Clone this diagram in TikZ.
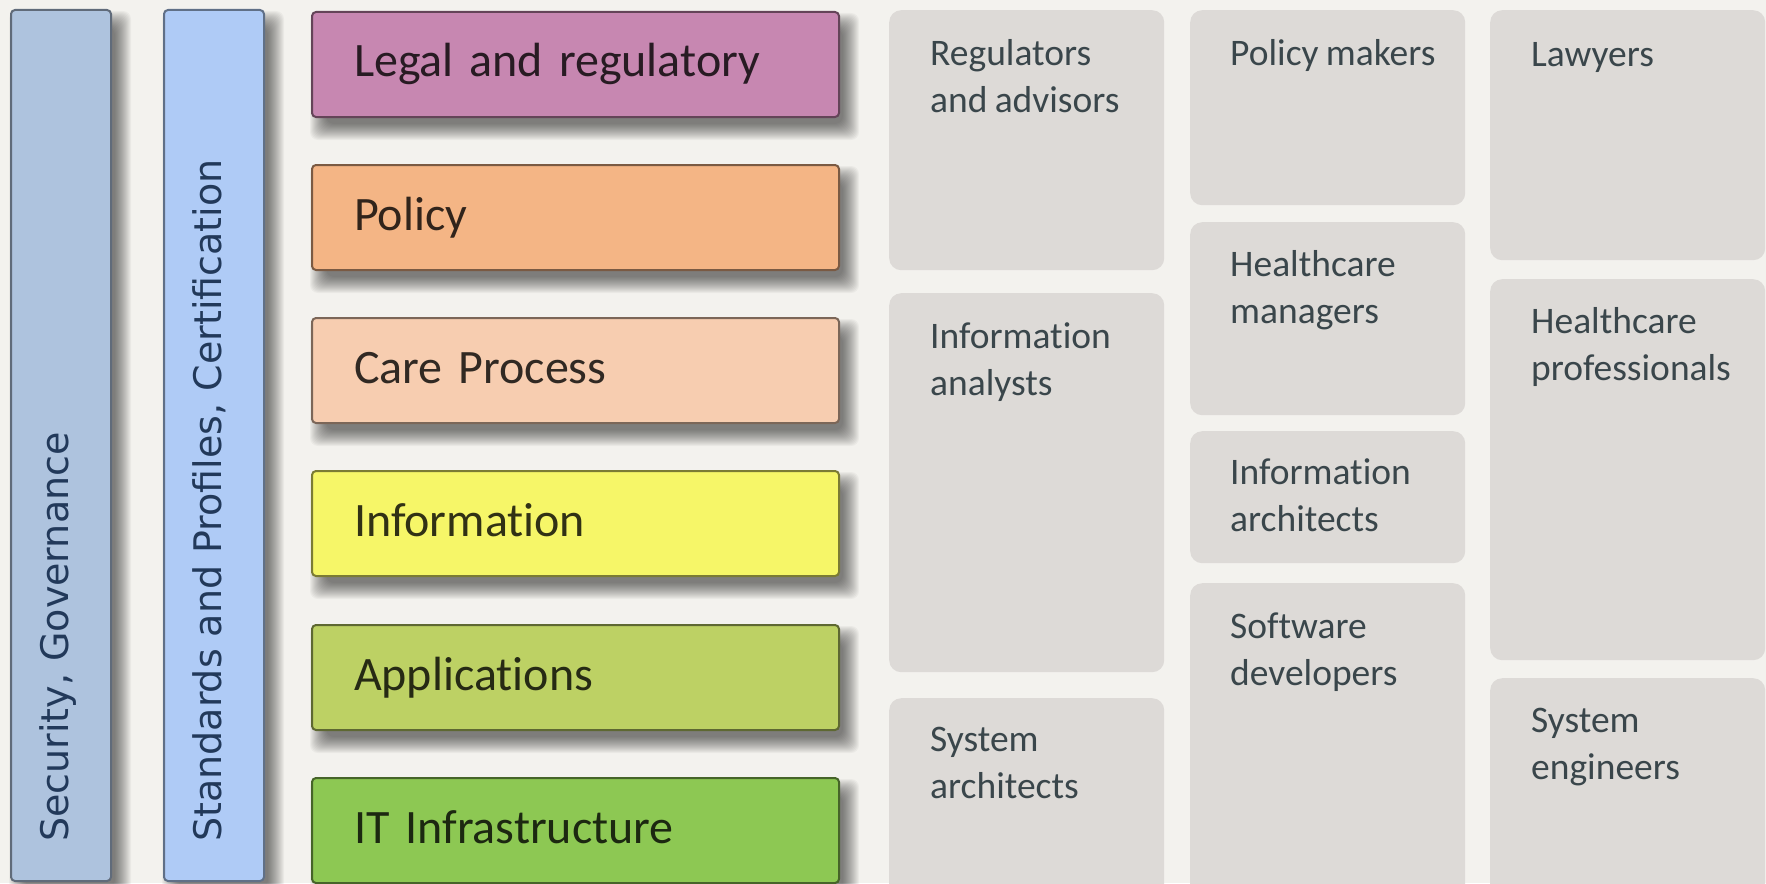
\documentclass[tikz,border=0pt]{standalone}
\usepackage{fontspec}
\setmainfont{Carlito}[Ligatures=NoCommon,Contextuals=NoAlternate,WordSpace=0.85]
\newfontfamily\barfont{DejaVu Sans}
\usetikzlibrary{calc}
\definecolor{bgc}{HTML}{F3F2EE}
\definecolor{legalc}{HTML}{C787B1}
\definecolor{policyc}{HTML}{F4B585}
\definecolor{carec}{HTML}{F7CDB0}
\definecolor{infoc}{HTML}{F6F668}
\definecolor{appc}{HTML}{BDD164}
\definecolor{itc}{HTML}{8DC853}
\definecolor{secc}{HTML}{AEC3DE}
\definecolor{stdc}{HTML}{AFCBF6}
\definecolor{rolec}{HTML}{DDDAD7}
\definecolor{roletextc}{HTML}{3A464B}
\definecolor{bartextc}{HTML}{22395A}
\pgfdeclarelayer{bgzero}
\pgfdeclarelayer{shadowlayer}
\pgfsetlayers{bgzero,shadowlayer,main}
\newcommand\rs{\rule{0pt}{28pt}}
\newcommand\softshadow[1]{%
  \foreach \i in {-6,...,10}{%
    \fill[black,fill opacity=0.035,rounded corners=8pt]
      ($(#1.north west)+(9-\i,12-\i)$) rectangle ($(#1.south east)+(9+\i,12+\i)$);}}
\begin{document}
\begin{tikzpicture}[x=1pt,y=-1pt,
  layer/.style={draw=black!50!#1, fill=#1, line width=2pt, rounded corners=4pt,
    anchor=north west, minimum width=527pt, minimum height=105pt,
    text width=443pt, inner xsep=42pt, inner ysep=0pt, align=left,
    font=\fontsize{48}{58}\selectfont, text=black!80!#1,
    text height=25pt, text depth=0pt},
  bar/.style={draw=black!45!#1, fill=#1, line width=2pt, rounded corners=4pt,
    anchor=north west, minimum width=100pt, minimum height=871pt, inner sep=0pt},
  bartext/.style={rotate=90, anchor=base west, inner sep=0pt,
    font=\barfont\fontsize{38}{46}\selectfont, text=bartextc},
  role/.style={fill=rolec, rounded corners=12pt, anchor=north west,
    minimum width=275pt, inner sep=0pt},
  roletext/.style={anchor=north west, inner sep=0pt, align=left,
    font=\fontsize{37.5}{47}\selectfont, text=roletextc}
]
\useasboundingbox (0,0) rectangle (1766,883);
\begin{pgfonlayer}{bgzero}
  \fill[bgc] (0,0) rectangle (1766,883);
\end{pgfonlayer}

\begin{scope}
\clip (0,0) rectangle (1766,883);
% vertical bars
\node[bar=secc] (sec) at (10,9) {};
\node[bar=stdc] (std) at (163,9) {};
\node[bartext] (sectext) at ($(sec.south)+(7,-40)$) {Security, Governance};
\node[bartext] (stdtext) at ($(std.south)+(7,-40)$) {Standards and Profiles, Certification};

% layers
\node[layer=legalc] (legal) at (311,11) {Legal and regulatory};
\node[layer=policyc] (policy) at (311,164) {Policy};
\node[layer=carec] (care) at (311,317) {Care Process};
\node[layer=infoc] (info) at (311,470) {Information};
\node[layer=appc] (apps) at (311,624) {Applications};
\node[layer=itc] (it) at (311,777) {IT Infrastructure};

% roles column 1
\node[role, minimum height=260pt] (reg) at (889,10) {};
\node[roletext] (regtext) at ($(reg.north west)+(41,27)$) {\rs Regulators\\and advisors};
\node[role, minimum height=379pt] (ana) at (889,293) {};
\node[roletext] (anatext) at ($(ana.north west)+(41,27)$) {\rs Information\\analysts};
\node[role, minimum height=210pt] (sysa) at (889,698) {};
\node[roletext] (sysatext) at ($(sysa.north west)+(41,25)$) {\rs System\\architects};

% roles column 2
\node[role, minimum height=195pt] (pm) at (1190,10) {};
\node[roletext] (pmtext) at ($(pm.north west)+(40,27)$) {\rs Policy makers};
\node[role, minimum height=193pt] (hcm) at (1190,222) {};
\node[roletext] (hcmtext) at ($(hcm.north west)+(40,26)$) {\rs Healthcare\\managers};
\node[role, minimum height=132pt] (iar) at (1190,431) {};
\node[roletext] (iartext) at ($(iar.north west)+(40,25)$) {\rs Information\\architects};
\node[role, minimum height=320pt] (sdev) at (1190,583) {};
\node[roletext] (sdevtext) at ($(sdev.north west)+(40,27)$) {\rs Software\\developers};

% roles column 3
\node[role, minimum height=250pt] (law) at (1490,10) {};
\node[roletext] (lawtext) at ($(law.north west)+(41,28)$) {\rs Lawyers};
\node[role, minimum height=381pt] (hcp) at (1490,279) {};
\node[roletext] (hcptext) at ($(hcp.north west)+(41,26)$) {\rs Healthcare\\professionals};
\node[role, minimum height=225pt] (syse) at (1490,678) {};
\node[roletext] (sysetext) at ($(syse.north west)+(41,26)$) {\rs System\\engineers};
\end{scope}

\begin{pgfonlayer}{shadowlayer}
  \clip (0,0) rectangle (1766,883);
  \softshadow{sec}
  \softshadow{std}
  \softshadow{legal}
  \softshadow{policy}
  \softshadow{care}
  \softshadow{info}
  \softshadow{apps}
  \softshadow{it}
\end{pgfonlayer}
\end{tikzpicture}
\end{document}
